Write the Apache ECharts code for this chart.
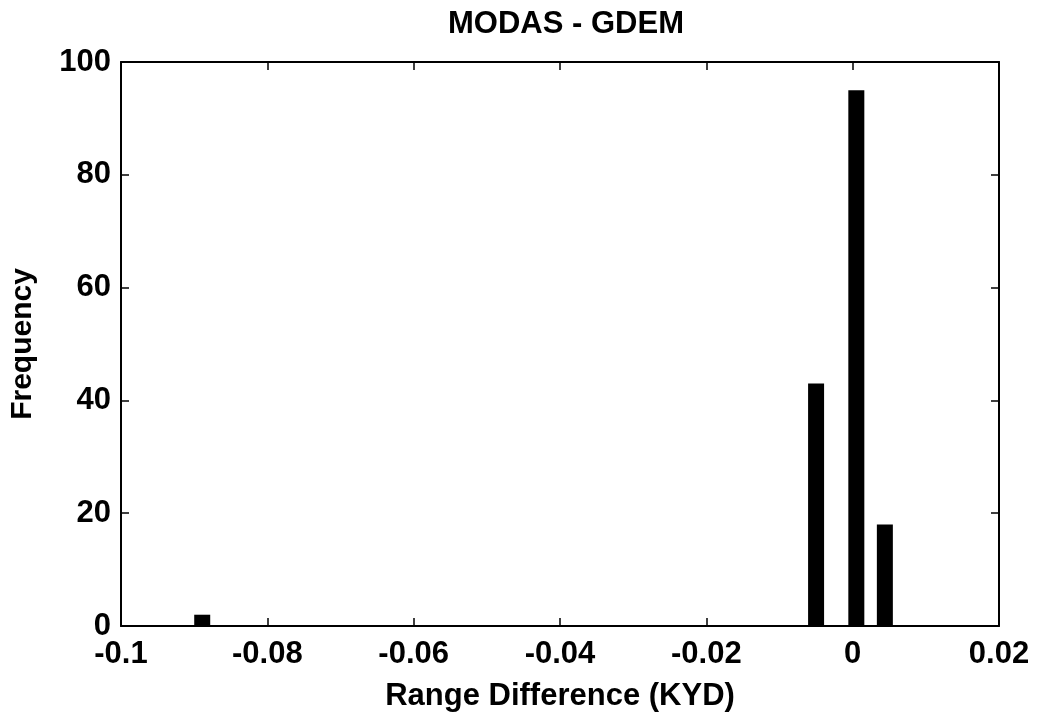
<!DOCTYPE html>
<html>
<head>
<meta charset="utf-8">
<script src="https://cdn.jsdelivr.net/npm/echarts@6/dist/echarts.min.js"></script>
<style>
html,body{margin:0;padding:0;background:#fff;}
#c{width:1041px;height:717px;}
</style>
</head>
<body>
<div id="c"></div>
<script>
var binCenters = [-0.0889, -0.0050, 0.0005, 0.0044];
var frequencies = [2, 43, 95, 18];
var xTicks = [-0.1, -0.08, -0.06, -0.04, -0.02, 0, 0.02];
var yTicks = [0, 20, 40, 60, 80, 100];

var FONT = '"Liberation Sans", Arial, Helvetica, sans-serif';
var barData = binCenters.map(function (x, i) { return [x, frequencies[i]]; });

function fmtX(v) {
  var r = Math.round(v * 100) / 100;
  if (Math.abs(r) < 1e-9) return '0';
  return String(r);
}

var lineStyle = { color: '#000', width: 2 };
var tickStyle = { color: '#000', width: 1.5 };
var chart = echarts.init(document.getElementById('c'), null, { renderer: 'canvas' });
chart.setOption({
  animation: false,
  backgroundColor: '#fff',
  title: {
    text: 'MODAS - GDEM',
    left: 561, top: 4, textAlign: 'center',
    textStyle: { fontFamily: FONT, fontSize: 31, fontWeight: 'bold', color: '#000' }
  },
  grid: { left: 119, right: 42, top: 62, bottom: 90, show: false },
  xAxis: [{
    type: 'value', min: -0.1, max: 0.02, interval: 0.02,
    position: 'bottom',
    name: 'Range Difference (KYD)', nameLocation: 'middle', nameGap: 55,
    nameTextStyle: { fontFamily: FONT, fontSize: 31, fontWeight: 'bold', color: '#000' },
    axisLine: { show: true, onZero: false, lineStyle: lineStyle },
    axisTick: { show: true, inside: true, length: 8, lineStyle: tickStyle },
    axisLabel: { fontFamily: FONT, fontSize: 31, fontWeight: 'bold', color: '#000', margin: 13, formatter: fmtX },
    splitLine: { show: false }
  }, {
    type: 'value', min: -0.1, max: 0.02, interval: 0.02,
    position: 'top',
    axisLine: { show: true, onZero: false, lineStyle: lineStyle },
    axisTick: { show: true, inside: true, length: 8, lineStyle: tickStyle },
    axisLabel: { show: false },
    splitLine: { show: false }
  }],
  yAxis: [{
    type: 'value', min: 0, max: 100, interval: 20,
    position: 'left',
    name: 'Frequency', nameLocation: 'middle', nameGap: 83, nameRotate: 90,
    nameTextStyle: { fontFamily: FONT, fontSize: 30, fontWeight: 'bold', color: '#000' },
    axisLine: { show: true, onZero: false, lineStyle: lineStyle },
    axisTick: { show: true, inside: true, length: 8, lineStyle: tickStyle },
    axisLabel: { fontFamily: FONT, fontSize: 31, fontWeight: 'bold', color: '#000', margin: 10 },
    splitLine: { show: false }
  }, {
    type: 'value', min: 0, max: 100, interval: 20,
    position: 'right',
    axisLine: { show: true, onZero: false, lineStyle: lineStyle },
    axisTick: { show: true, inside: true, length: 8, lineStyle: tickStyle },
    axisLabel: { show: false },
    splitLine: { show: false }
  }],
  series: [{
    type: 'bar',
    xAxisIndex: 0, yAxisIndex: 0,
    data: barData,
    barWidth: 16,
    itemStyle: { color: '#000' },
    emphasis: { disabled: true }
  }]
});
</script>
</body>
</html>
